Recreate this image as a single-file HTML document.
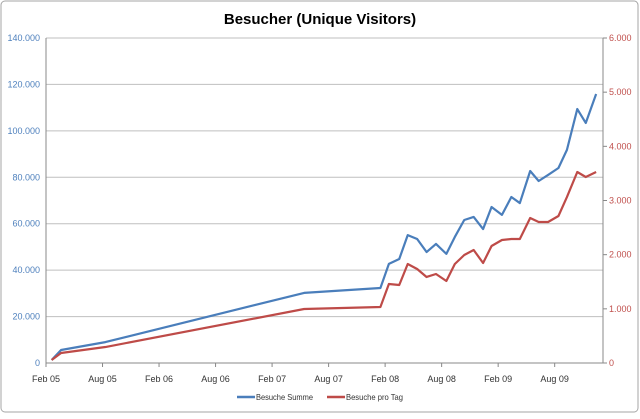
<!DOCTYPE html>
<html><head><meta charset="utf-8"><style>
body{margin:0;background:#fff;font-family:"Liberation Sans",sans-serif}
#wrap{position:relative;width:640px;height:414px}
</style></head><body>
<div id="wrap">
<svg id="c" width="640" height="414" xmlns="http://www.w3.org/2000/svg">
<rect x="1" y="1" width="637" height="411" rx="4" fill="#fff" stroke="#a6a6a6"/>
<text x="320" y="24" text-anchor="middle" font-size="15" font-weight="bold" fill="#000">Besucher (Unique Visitors)</text>
<g id="grid"></g><g id="axes"></g><g id="series"></g>
<g>
<line x1="237" y1="397" x2="255" y2="397" stroke="#4a7ebb" stroke-width="2.5"/>
<text x="256" y="400" font-size="8.5" fill="#333" textLength="57" lengthAdjust="spacingAndGlyphs">Besuche Summe</text>
<line x1="327" y1="397" x2="345" y2="397" stroke="#be4b48" stroke-width="2.5"/>
<text x="346" y="400" font-size="8.5" fill="#333" textLength="57" lengthAdjust="spacingAndGlyphs">Besuche pro Tag</text>
</g>
</svg>
</div>
<script>
const monthsBlue=[0.6,1.6,6.3,27.4,35.5,36.4,37.5,38.4,39.4,40.4,41.4,42.5,43.4,44.4,45.4,46.4,47.3,48.4,49.4,50.3,51.4,52.3,53.3,54.4,55.3,56.4,57.3,58.4];
const besucheSumme=[1300,5600,9000,30200,32300,42700,44800,55100,53400,47800,51300,47000,54300,61600,62900,57700,67200,63800,71500,68900,82700,78400,81000,84000,91800,109400,103400,115900];
const besucheProTag=[55,185,295,997,1034,1458,1440,1828,1735,1588,1643,1514,1828,1994,2086,1846,2160,2271,2289,2289,2677,2603,2603,2714,3064,3526,3434,3526];
const leftTicks=["0","20.000","40.000","60.000","80.000","100.000","120.000","140.000"];
const rightTicks=["0","1.000","2.000","3.000","4.000","5.000","6.000"];
const xTickLabels=["Feb 05","Aug 05","Feb 06","Aug 06","Feb 07","Aug 07","Feb 08","Aug 08","Feb 09","Aug 09"];
const L=46,R=603,T=38,B=363,NS="http://www.w3.org/2000/svg";
const xs=m=>L+m*9.42;
const yl=v=>B-v/140000*(B-T);
const yr=v=>B-v/6000*(B-T);
function mk(tag,attrs,parent,name){const e=document.createElementNS(NS,tag);for(const k in attrs)e.setAttribute(k,attrs[k]);


parent.appendChild(e);return e;}
const g=document.getElementById('grid'),a=document.getElementById('axes'),s=document.getElementById('series');
leftTicks.forEach((t,i)=>{const y=yl(i*20000);
if(i>0)mk('line',{x1:L,x2:R,y1:y,y2:y,stroke:'#bfbfbf','stroke-width':1},g,'gridline');
const tx=mk('text',{x:40,y:y+3,'text-anchor':'end','font-size':9,fill:'#4f81bd'},a,'y-left-tick-label');tx.textContent=t;});
rightTicks.forEach((t,i)=>{const y=yr(i*1000);
mk('line',{x1:R,x2:R+4,y1:y,y2:y,stroke:'#888'},a,'y-right-tick');
const tx=mk('text',{x:609,y:y+3,'font-size':9,fill:'#c0504d'},a,'y-right-tick-label');tx.textContent=t;});
mk('line',{x1:L,x2:L,y1:T,y2:B,stroke:'#888'},a,'y-left-axis');
mk('line',{x1:R,x2:R,y1:T,y2:B,stroke:'#888'},a,'y-right-axis');
mk('line',{x1:L,x2:R,y1:B,y2:B,stroke:'#888'},a,'x-axis');
xTickLabels.forEach((t,i)=>{const x=xs(i*6);
mk('line',{x1:x,x2:x,y1:B,y2:B+4,stroke:'#888'},a,'x-tick');
const tx=mk('text',{x:x,y:382,'text-anchor':'middle','font-size':9,fill:'#333'},a,'x-tick-label');tx.textContent=t;});
mk('polyline',{points:monthsBlue.map((m,i)=>xs(m)+','+yl(besucheSumme[i])).join(' '),fill:'none',stroke:'#4a7ebb','stroke-width':2.2,'stroke-linejoin':'round'},s,'series-besuche-summe');
mk('polyline',{points:monthsBlue.map((m,i)=>xs(m)+','+yr(besucheProTag[i])).join(' '),fill:'none',stroke:'#be4b48','stroke-width':2.2,'stroke-linejoin':'round'},s,'series-besuche-pro-tag');
</script>
</body></html>
